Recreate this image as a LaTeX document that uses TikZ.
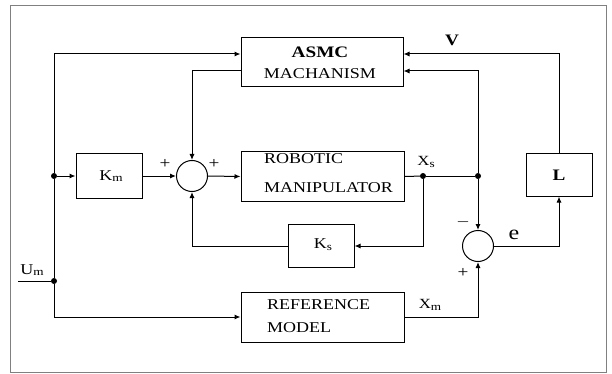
\documentclass[tikz,border=0pt]{standalone}
\usepackage{fontspec}
\setmainfont{Liberation Serif}[FakeStretch=1.2]
\usetikzlibrary{arrows.meta}
\newcommand{\mysub}[1]{\raisebox{-0.25ex}{\fontsize{11}{12}\selectfont #1}}
\begin{document}
\begin{tikzpicture}[x=1pt,y=-1pt,
  blk/.style={draw,line width=1pt},
  sumj/.style={draw,circle,line width=1pt,minimum size=31pt,inner sep=0pt},
  sig/.style={line width=1pt,-{Latex[length=6pt,width=5pt]}},
  ln/.style={line width=1pt},
  dot/.style={circle,fill,inner sep=0pt,minimum size=6pt},
  txt/.style={font=\fontsize{15}{17}\selectfont,inner sep=0pt},
  lbl/.style={font=\fontsize{14}{16}\selectfont,inner sep=0pt}]
\useasboundingbox (0,0) rectangle (612,374);
\draw[gray,line width=0.7pt] (10,5) rectangle (606,372);
% blocks
\node[blk,minimum width=162pt,minimum height=49pt] (asmc) at (322,62.5) {};
\node[txt,font=\fontsize{16}{18}\selectfont\bfseries] (asmcT) at (320,52) {ASMC};
\node[txt] (asmcB) at (320,74) {MACHANISM};
\node[blk,minimum width=163pt,minimum height=49pt] (rob) at (322.5,176.5) {};
\node[txt,anchor=west] (robT) at (264,159) {ROBOTIC};
\node[txt,anchor=west] (robB) at (264,188) {MANIPULATOR};
\node[blk,minimum width=163pt,minimum height=50pt] (ref) at (322.5,317) {};
\node[txt,anchor=west] (refT) at (267,305) {REFERENCE};
\node[txt,anchor=west] (refB) at (267,328) {MODEL};
\node[blk,minimum width=66pt,minimum height=44pt] (km) at (109,176) {};
\node[txt] (kmT) at (111,176) {K\mysub{m}};
\node[blk,minimum width=66pt,minimum height=43pt] (ks) at (321,246) {};
\node[txt] (ksT) at (323,245) {K\mysub{s}};
\node[blk,minimum width=66pt,minimum height=42pt] (L) at (559,175) {};
\node[txt,font=\fontsize{16}{18}\selectfont\bfseries] (LT) at (559,175) {L};
% summing junctions
\node[sumj] (s1) at (192,176) {};
\node[sumj] (s2) at (478,246) {};
% branch points
\coordinate (um0) at (18,281);
\node[dot] (dum) at (54,281) {};
\node[dot] (dkm) at (54,176) {};
\node[dot] (dxs1) at (423,176) {};
\node[dot] (dxs2) at (478,176) {};
\coordinate (top) at (54,54);
% connectors
\draw[ln] (um0) -- (dum);
\draw[sig] (dum) |- (ref.west);
\draw[ln] (dum) -- (dkm);
\draw[ln] (dkm) -- (top);
\draw[sig] (top) -- (asmc.west |- top);
\draw[sig] (dkm) -- (km.west);
\draw[sig] (km.east) -- (s1.west);
\draw[sig] (asmc.west |- 0,71) -| (s1.north);
\draw[sig] (s1.east) -- (rob.west);
\draw[ln] (rob.east) -- (dxs1);
\draw[ln] (dxs1) -- (dxs2);
\draw[sig] (dxs1) |- (ks.east);
\draw[sig] (ks.west) -| (s1.south);
\draw[sig] (dxs2) |- (asmc.east |- 0,71);
\draw[sig] (dxs2) -- (s2.north);
\draw[sig] (ref.east) -| (s2.south);
\draw[sig] (s2.east) -| (L.south);
\draw[sig] (L.north) |- (asmc.east |- 0,54);
% labels
\node[lbl,font=\fontsize{15}{17}\selectfont] (lum) at (32,270) {U\mysub{m}};
\node[lbl,font=\fontsize{16}{18}\selectfont\bfseries] (lv) at (452,40) {V};
\node[lbl] (lxs) at (426,162) {X\mysub{s}};
\node[lbl] (lxm) at (430,305) {X\mysub{m}};
\node[lbl,font=\fontsize{20}{22}\selectfont] (le) at (514,235) {e};
\node[lbl,font=\fontsize{16}{18}\selectfont] (p1) at (165,164) {+};
\node[lbl,font=\fontsize{16}{18}\selectfont] (p2) at (214,164) {+};
\node[lbl,font=\fontsize{16}{18}\selectfont] (m2) at (463,222) {$-$};
\node[lbl,font=\fontsize{16}{18}\selectfont] (p3) at (463,273) {+};
\end{tikzpicture}
\end{document}
